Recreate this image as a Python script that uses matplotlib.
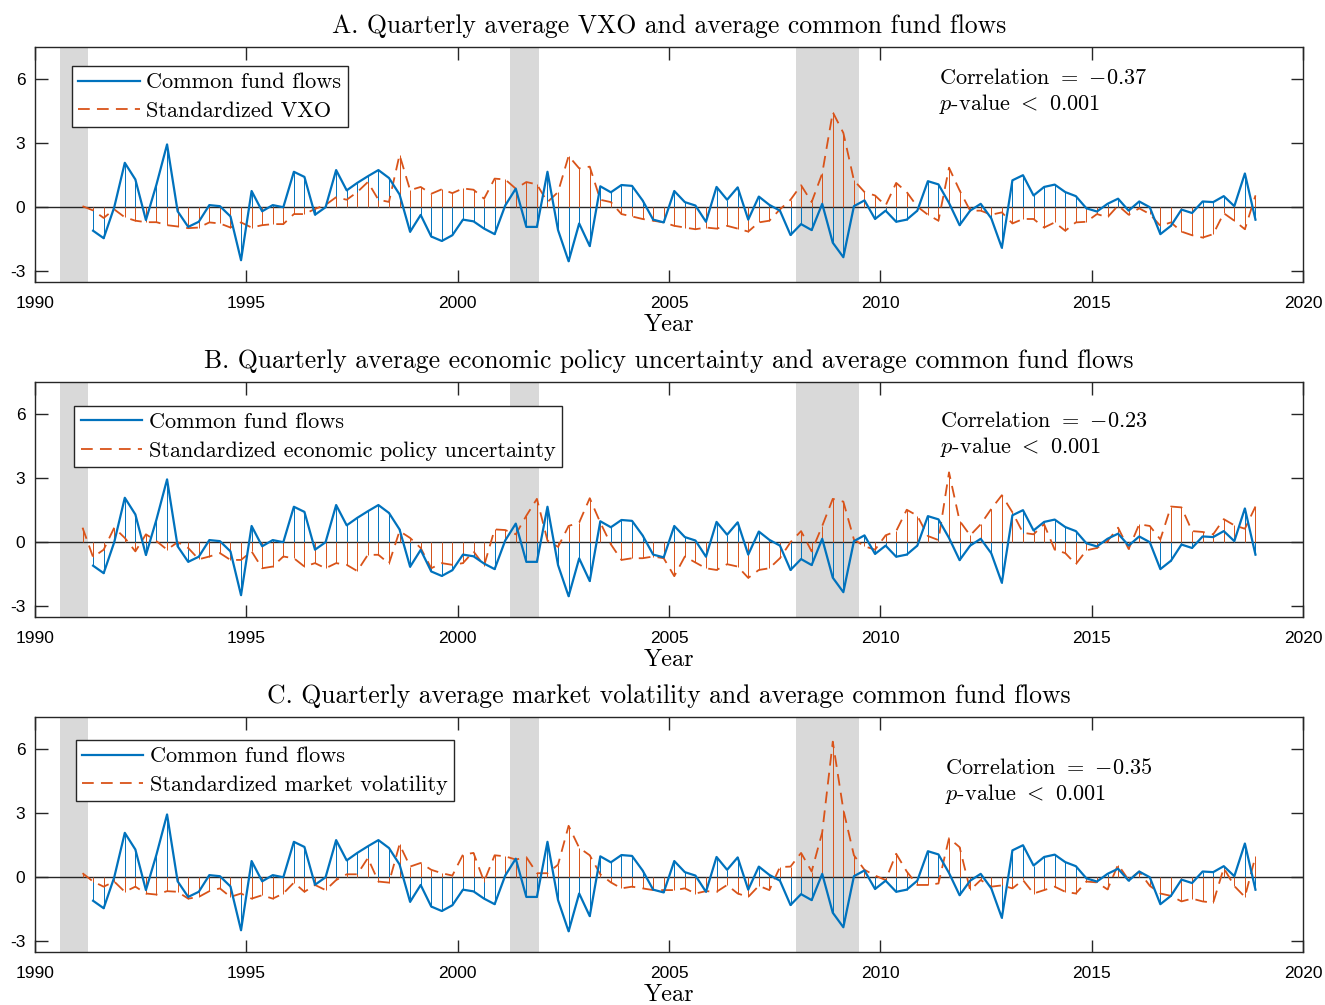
import numpy as np
import matplotlib
matplotlib.use('Agg')
from matplotlib import pyplot as plt

plt.rcParams['mathtext.fontset'] = 'cm'
plt.rcParams['axes.unicode_minus'] = False

# common fund flows, 1991Q2 - 2018Q4
flows = [-1.1, -1.45, 0.0, 2.08, 1.3, -0.6, 1.07, 2.94, -0.19, -0.92,
         -0.68, 0.1, 0.05, -0.43, -2.48, 0.76, -0.19, 0.1, 0.0, 1.66,
         1.42, -0.35, 0.0, 1.74, 0.79, 1.14, 1.45, 1.74, 1.37, 0.6,
         -1.15, -0.36, -1.37, -1.58, -1.31, -0.58, -0.66, -1.0, -1.26, 0.08,
         0.87, -0.92, -0.92, 1.66, -1.07, -2.53, -0.76, -1.82, 0.98, 0.7,
         1.04, 1.0, 0.32, -0.58, -0.71, 0.76, 0.24, 0.08, -0.68, 0.95,
         0.35, 0.93, -0.58, 0.5, 0.11, -0.16, -1.3, -0.79, -1.07, 0.16,
         -1.66, -2.34, 0.05, 0.32, -0.55, -0.16, -0.68, -0.58, -0.16, 1.22,
         1.07, 0.2, -0.84, -0.16, 0.16, -0.52, -1.9, 1.26, 1.5, 0.55,
         0.95, 1.06, 0.71, 0.52, -0.05, -0.2, 0.16, 0.4, -0.16, 0.27,
         0.0, -1.26, -0.87, -0.11, -0.27, 0.27, 0.24, 0.52, 0.05, 1.58,
         -0.58]

# standardized series, 1991Q1 - 2018Q4
vxo = [0.05, -0.15, -0.5, -0.1, -0.47, -0.63, -0.7, -0.7, -0.84, -0.9,
       -0.98, -0.95, -0.71, -0.76, -0.95, -0.71, -0.95, -0.84, -0.79, -0.79,
       -0.32, -0.32, -0.08, 0.11, 0.47, 0.35, 0.71, 1.18, 0.35, 0.25,
       2.45, 0.8, 0.95, 0.63, 0.84, 0.66, 0.88, 0.82, 0.4, 1.34,
       1.3, 0.87, 1.18, 1.07, 0.24, 0.71, 2.4, 1.82, 1.9, 0.35,
       0.24, -0.32, -0.43, -0.55, -0.63, -0.71, -0.87, -0.95, -1.03, -0.95,
       -1.0, -0.87, -1.0, -1.14, -0.71, -0.63, -0.1, 0.35, 1.03, 0.24,
       1.58, 4.45, 3.48, 1.26, 0.71, 0.55, 0.08, 1.14, 0.71, 0.03,
       -0.35, -0.63, 1.85, 0.79, -0.16, -0.16, -0.35, -0.24, -0.76, -0.55,
       -0.55, -0.95, -0.71, -1.1, -0.71, -0.68, -0.32, -0.47, 0.08, -0.35,
       -0.05, -0.32, -0.87, -0.71, -1.14, -1.31, -1.42, -1.26, -0.28, -0.63,
       -1.03, 0.55]

epu = [0.68, -0.7, -0.35, 0.68, 0.2, -0.43, 0.37, 0.05, -0.35, 0.0,
       -0.27, -0.8, -0.67, -0.51, -0.83, -0.83, -0.43, -1.22, -1.14, -0.67,
       -0.75, -1.14, -0.98, -1.22, -0.98, -1.06, -1.35, -0.59, -0.59, -1.0,
       0.52, 0.2, -0.27, -1.22, -0.98, -1.06, -0.98, -0.43, -1.1, 0.6,
       0.57, 0.37, 1.24, 2.03, 0.08, -0.22, 0.76, 0.92, 2.06, 0.92,
       -0.1, -0.83, -0.75, -0.75, -0.67, -0.75, -1.59, -0.67, -0.95, -1.22,
       -1.3, -1.03, -1.14, -1.67, -1.3, -1.22, -0.75, 0.0, 0.52, -0.43,
       0.76, 2.03, 1.9, 0.13, -0.19, -0.35, 0.32, 0.52, 1.52, 1.24,
       0.29, 0.1, 3.27, 1.0, 0.32, 0.84, 1.56, 2.2, 1.4, 0.44,
       0.37, 0.84, -0.35, -0.51, -1.03, -0.38, -0.27, 0.05, 0.68, -0.32,
       0.84, 0.76, 0.13, 1.67, 1.63, 0.52, 0.48, 0.37, 1.08, 0.79,
       0.63, 1.67]

mvol = [0.19, -0.2, -0.44, -0.2, -0.68, -0.44, -0.76, -0.81, -0.65, -0.68,
        -1.0, -0.92, -0.65, -0.52, -0.92, -0.76, -1.0, -0.84, -1.0, -0.76,
        -0.25, -0.68, -0.36, -0.6, -0.13, 0.14, 0.14, 0.9, -0.2, -0.25,
        1.54, 0.5, 0.67, 0.35, 0.19, 0.08, 1.06, 1.14, -0.2, 1.03,
        0.98, 0.83, 0.94, 0.19, 0.19, 0.59, 2.41, 1.38, 1.03, 0.14,
        -0.24, -0.52, -0.44, -0.52, -0.6, -0.6, -0.6, -0.52, -0.76, -0.65,
        -0.68, -0.36, -0.76, -0.92, -0.4, -0.6, 0.48, 0.5, 1.14, 0.27,
        2.1, 6.35, 3.16, 1.03, 0.35, 0.08, -0.13, 1.1, 0.27, -0.36,
        -0.36, -0.29, 1.83, 1.41, -0.6, -0.13, -0.44, -0.38, -0.52, -0.13,
        -0.76, -0.6, -0.44, -0.68, -0.76, -0.2, -0.24, -0.57, 0.59, -0.13,
        0.27, -0.4, -0.76, -0.87, -1.13, -1.0, -1.13, -1.19, 0.43, -0.41,
        -0.92, 0.98]

recessions = [(1990 + 7 / 12, 1991.25), (2001.25, 2001 + 11 / 12), (2008.0, 2009.5)]

titles = ['A. Quarterly average VXO and average common fund flows',
          'B. Quarterly average economic policy uncertainty and average common fund flows',
          'C. Quarterly average market volatility and average common fund flows']
labels = ['Standardized VXO', 'Standardized economic policy uncertainty',
          'Standardized market volatility']
corrs = ['0.37', '0.23', '0.35']
series = [vxo, epu, mvol]

blue = '#0072BD'
orange = '#D95319'
axcol = '#262626'

# quarter mid points
t = 1991 + (np.arange(len(vxo)) + 0.5) / 4
t_flows = t[1:]

fig = plt.figure(figsize=(13.25, 10.05), dpi=100)
bottoms = [0.7194, 0.3861, 0.0527]
leg_pos = [(0.029, 0.919), (0.031, 0.898), (0.032, 0.902)]
txt_pos = [(0.713, 0.868), (0.714, 0.834), (0.718, 0.783)]

for k in range(3):
    ax = fig.add_axes([0.0264, bottoms[k], 0.957, 0.2338])
    for a, b in recessions:
        ax.axvspan(a, b, color='#D9D9D9', lw=0, zorder=0)
    ax.axhline(0, color=axcol, lw=1.0, zorder=1)
    y = np.array(series[k])
    f = np.array(flows)
    ax.vlines(t_flows, 0, f, color=blue, lw=0.7, zorder=2)
    ax.vlines(t, 0, y, color=orange, lw=0.7, zorder=2)
    ax.plot(t_flows, f, color=blue, lw=1.6, zorder=4, label='Common fund flows')
    ax.plot(t, y, color=orange, lw=1.3, ls=(0, (6.5, 4)), zorder=3, label=labels[k])

    ax.set_xlim(1990, 2020)
    ax.set_ylim(-3.5, 7.5)
    ax.set_xticks(range(1990, 2021, 5))
    ax.set_yticks([-3, 0, 3, 6])
    ax.set_yticklabels(['-3', '0', '3', '6'])
    ax.tick_params(direction='in', top=True, right=True, length=9, width=1,
                   color=axcol, labelsize=12.5)
    ax.tick_params(axis='x', pad=10)
    ax.tick_params(axis='y', pad=7)
    for lab in ax.get_xticklabels() + ax.get_yticklabels():
        lab.set_fontfamily('Liberation Sans')
    for s in ax.spines.values():
        s.set_color(axcol)
        s.set_linewidth(1.0)

    ax.set_title(titles[k], fontfamily='cmr10', fontsize=18.5, pad=10)
    ax.set_xlabel('Year', fontfamily='cmr10', fontsize=17.5, labelpad=2)

    leg = ax.legend(loc='upper left', bbox_to_anchor=leg_pos[k], borderaxespad=0,
                    fancybox=False, framealpha=1, edgecolor=axcol, handlelength=2.75,
                    prop={'family': 'cmr10', 'size': 16}, borderpad=0.3,
                    labelspacing=0.4, handletextpad=0.3)
    leg.get_frame().set_linewidth(1.0)

    x0, y0 = txt_pos[k]
    ax.text(x0, y0, 'Correlation $=$ $-$' + corrs[k],
            transform=ax.transAxes, fontfamily='cmr10', fontsize=16, va='center')
    ax.text(x0, y0 - 0.111, '$p$-value $<$ 0.001',
            transform=ax.transAxes, fontfamily='cmr10', fontsize=16, va='center')

fig.savefig('out.png', dpi=100)
